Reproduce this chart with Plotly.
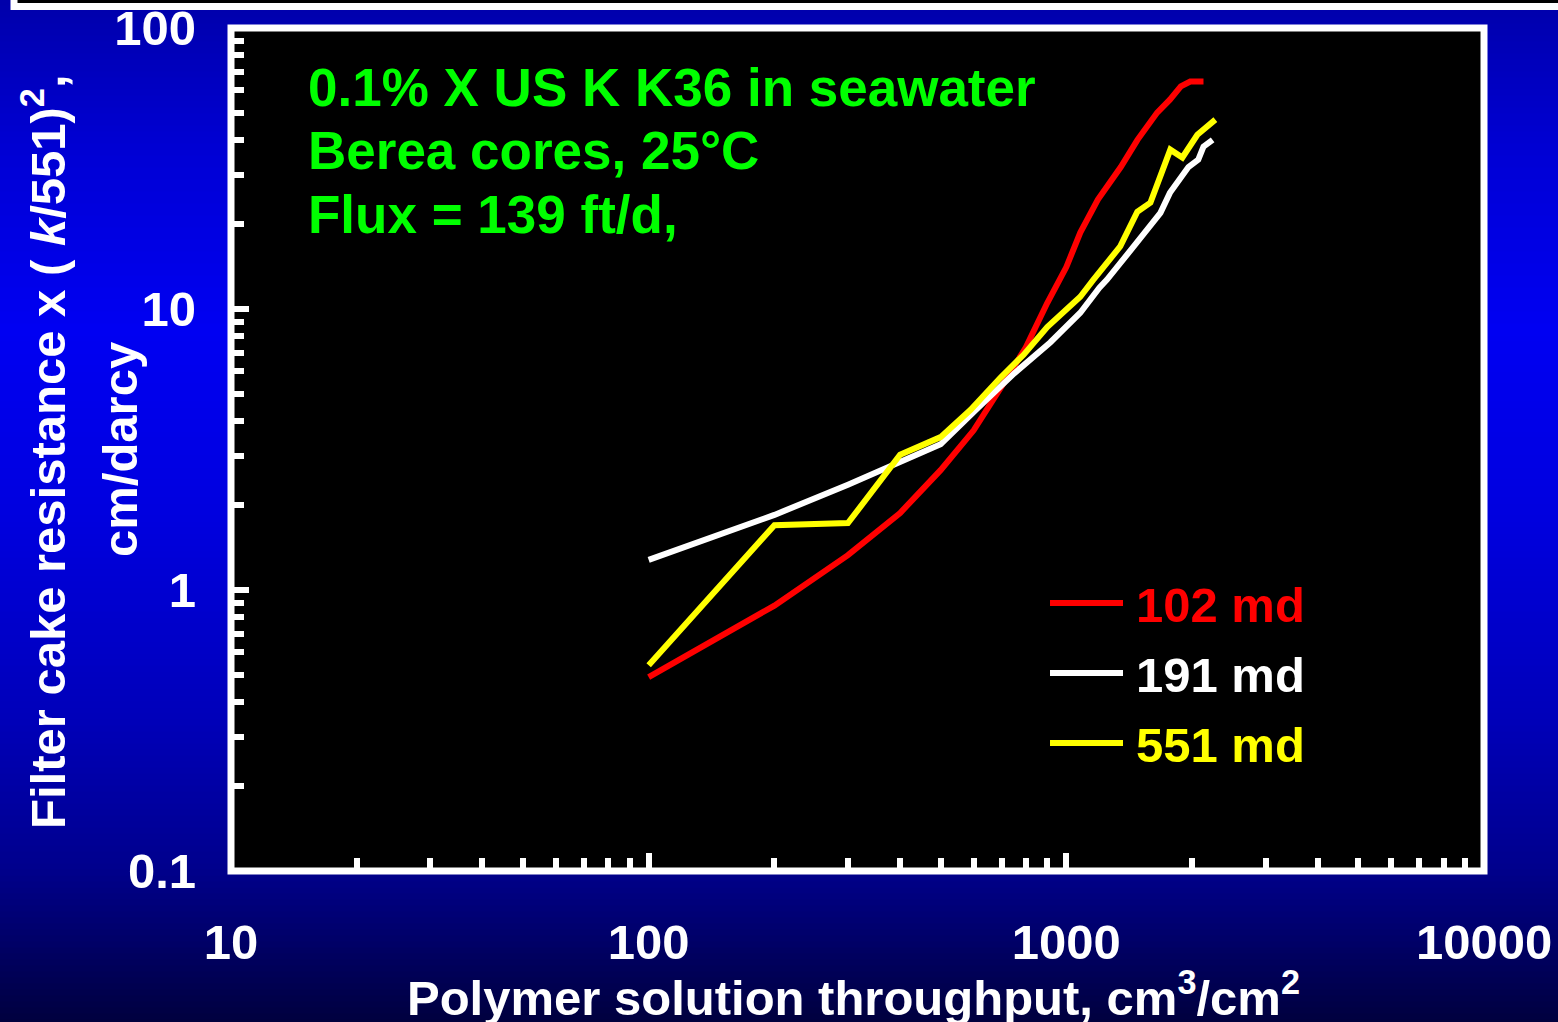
import plotly.graph_objects as go

# ---------------- data ----------------
red_x = [100, 200, 300, 400, 500, 600, 700, 800, 900, 1000, 1080, 1190, 1350, 1480, 1650, 1770, 1880, 1980, 2130]
red_y = [0.49, 0.88, 1.33, 1.88, 2.67, 3.7, 5.3, 7.3, 10.5, 14.1, 18.7, 24.5, 32.0, 40.0, 50.0, 55.6, 62.0, 64.5, 64.5]

white_x = [100, 200, 300, 400, 500, 610, 750, 915, 1080, 1200, 1250, 1450, 1680, 1770, 1960, 2070, 2130, 2240]
white_y = [1.28, 1.85, 2.37, 2.86, 3.3, 4.4, 5.9, 7.6, 9.7, 11.9, 12.7, 16.7, 22.0, 25.9, 32.0, 34.0, 37.8, 40.0]

yellow_x = [100, 200, 300, 400, 500, 590, 695, 790, 900, 1080, 1160, 1346, 1479, 1590, 1774, 1896, 2059, 2274]
yellow_y = [0.54, 1.70, 1.73, 3.03, 3.5, 4.38, 5.69, 6.87, 8.63, 11.05, 12.7, 16.7, 22.2, 23.9, 36.9, 34.6, 41.7, 47.2]

series_names = ["102 md", "191 md", "551 md"]
series_colors = ["#FF0000", "#FFFFFF", "#FFFF00"]

x_tickvals = [10, 100, 1000, 10000]
x_ticktext = ["10", "100", "1000", "10000"]
y_tickvals = [0.1, 1, 10, 100]
y_ticktext = ["0.1", "1", "10", "100"]

notes = ["0.1% X US K K36 in seawater", "Berea cores, 25°C", "Flux = 139 ft/d,"]

# ---------------- layout geometry ----------------
W, H = 1558, 1022
L, R, T, B = 231, 74, 28, 151
PW, PH = W - L - R, H - T - B
FONT = "Liberation Sans, Arial, sans-serif"


def xp(px):
    return (px - L) / PW


def yp(py):
    return (H - B - py) / PH


fig = go.Figure()
for xs, ys, name, col in zip([red_x, white_x, yellow_x], [red_y, white_y, yellow_y], series_names, series_colors):
    fig.add_trace(go.Scatter(x=xs, y=ys, mode="lines", name=name, showlegend=False,
                             line=dict(color=col, width=6)))

# background gradient (blue -> dark navy)
stops = [(0, 170), (150, 212), (330, 242), (520, 222), (720, 185), (870, 140), (1022, 62)]


def blue_at(py):
    for (a, ca), (b, cb) in zip(stops[:-1], stops[1:]):
        if a <= py <= b:
            return ca + (cb - ca) * (py - a) / (b - a)
    return stops[-1][1]


shapes = []
step = 6
for py in range(0, H, step):
    c = int(round(blue_at(py + step / 2)))
    shapes.append(dict(type="rect", xref="paper", yref="paper", layer="below",
                       x0=xp(-5), x1=xp(W + 5), y0=yp(py + step + 0.5), y1=yp(py - 0.5),
                       line=dict(width=0), fillcolor=f"rgb(0,0,{c})"))
# black plotting area
shapes.append(dict(type="rect", xref="paper", yref="paper", layer="below",
                   x0=0, x1=1, y0=0, y1=1, line=dict(width=0), fillcolor="black"))
# white frame
shapes.append(dict(type="rect", xref="paper", yref="paper", layer="above",
                   x0=0, x1=1, y0=0, y1=1, line=dict(color="white", width=7),
                   fillcolor="rgba(0,0,0,0)"))
# frame of the slide box above (visible at the very top)
shapes.append(dict(type="rect", xref="paper", yref="paper", layer="above",
                   x0=xp(14), x1=xp(W + 40), y0=yp(6.5), y1=yp(-60),
                   line=dict(color="white", width=7), fillcolor="black"))

# manual legend
leg_y = [603, 673, 743]
annotations = []
for name, col, ly in zip(series_names, series_colors, leg_y):
    shapes.append(dict(type="line", xref="paper", yref="paper", layer="above",
                       x0=xp(1050), x1=xp(1123), y0=yp(ly), y1=yp(ly),
                       line=dict(color=col, width=6)))
    annotations.append(dict(text=name, xref="paper", yref="paper", x=xp(1134), y=yp(ly + 2),
                            xanchor="left", yanchor="middle", showarrow=False,
                            font=dict(family=FONT, size=49, color=col, weight="bold")))

# green notes
for txt, ny in zip(notes, [87, 151, 215]):
    annotations.append(dict(text=txt, xref="paper", yref="paper", x=xp(306), y=yp(ny),
                            xanchor="left", yanchor="middle", showarrow=False,
                            font=dict(family=FONT, size=53, color="#00FF00", weight="bold")))

# y-axis title (two lines)
annotations.append(dict(text="Filter cake resistance x ( <i>k</i>/551)<sup>2</sup>,", xref="paper", yref="paper",
                        x=xp(44), y=yp(452), xanchor="center", yanchor="middle", textangle=-90,
                        showarrow=False, font=dict(family=FONT, size=49, color="white", weight="bold")))
annotations.append(dict(text="cm/darcy", xref="paper", yref="paper",
                        x=xp(120), y=yp(450), xanchor="center", yanchor="middle", textangle=-90,
                        showarrow=False, font=dict(family=FONT, size=49, color="white", weight="bold")))
# x-axis title
annotations.append(dict(text="Polymer solution throughput, cm<sup>3</sup>/cm<sup>2</sup>", xref="paper", yref="paper",
                        x=xp(853), y=yp(994), xanchor="center", yanchor="middle",
                        showarrow=False, font=dict(family=FONT, size=49, color="white", weight="bold")))

x_minor = [m * d for d in (10, 100, 1000) for m in range(2, 10)]
y_minor = [m * d for d in (0.1, 1, 10) for m in range(2, 10)]

axis_common = dict(type="log", showgrid=False, zeroline=False, showline=False,
                   ticks="inside", ticklen=18, tickwidth=6, tickcolor="white",
                   tickfont=dict(family=FONT, size=49, color="white", weight="bold"))

fig.update_layout(
    width=W, height=H,
    margin=dict(l=L, r=R, t=T, b=B, autoexpand=False),
    paper_bgcolor="#0000A0", plot_bgcolor="black",
    showlegend=False,
    xaxis=dict(range=[1, 4], tickvals=x_tickvals, ticktext=x_ticktext, ticklabelstandoff=38,
               minor=dict(tickvals=x_minor, ticks="inside", ticklen=13, tickwidth=6, tickcolor="white", showgrid=False),
               **axis_common),
    yaxis=dict(range=[-1, 2], tickvals=y_tickvals, ticktext=y_ticktext, ticklabelstandoff=34,
               minor=dict(tickvals=y_minor, ticks="inside", ticklen=13, tickwidth=6, tickcolor="white", showgrid=False),
               **axis_common),
    shapes=shapes,
    annotations=annotations,
)

fig.write_html("out.html")
